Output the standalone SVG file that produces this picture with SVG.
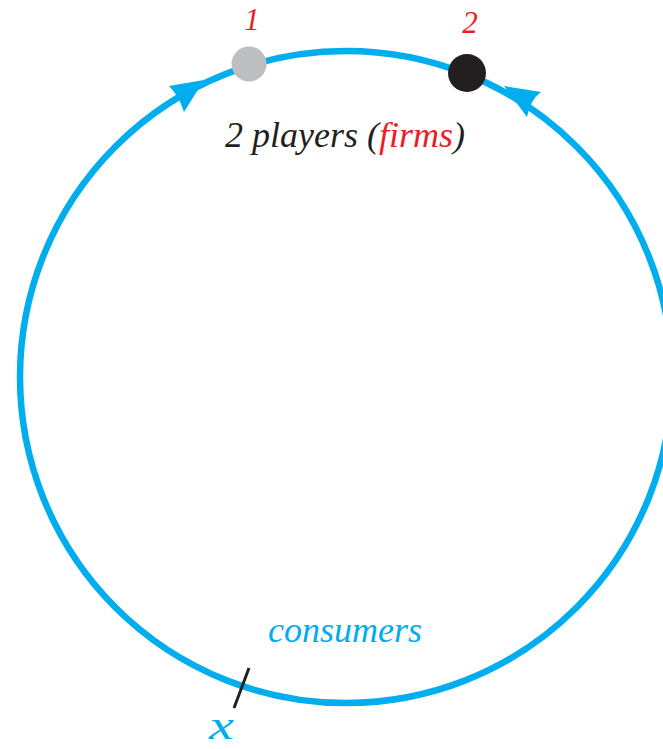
<svg xmlns="http://www.w3.org/2000/svg" width="663" height="749" viewBox="0 0 663 749">
<style>
.lbl{font-family:"Liberation Serif","Times New Roman",serif;font-style:italic}
.arrow{fill:#00aeef;stroke:none}
</style>
<rect width="663" height="749" fill="#ffffff"/>
<g id="connectors">
<circle cx="346" cy="377" r="326" fill="none" stroke="#00aeef" stroke-width="6.5"/>
<path class="arrow" d="M204,80 L169,86 Q179,96 184,112 Z"/>
<path class="arrow" d="M504,86 L541,92 Q530,100 527,117 Z"/>
<line x1="249" y1="668" x2="234" y2="708" stroke="#231f20" stroke-width="3"/>
</g>
<g id="node1">
<circle cx="249" cy="64" r="17.5" fill="#bcbec0"/>
<text class="lbl" x="252" y="30" font-size="31" fill="#ed1c24" text-anchor="middle">1</text>
</g>
<g id="node2">
<circle cx="467" cy="73" r="19" fill="#231f20"/>
<text class="lbl" x="470" y="33" font-size="31" fill="#ed1c24" text-anchor="middle">2</text>
</g>
<g id="title">
<text class="lbl" x="225" y="147" font-size="36" fill="#231f20">2 players (<tspan fill="#ed1c24">firms</tspan>)</text>
</g>
<g id="consumers">
<text class="lbl" x="268" y="642" font-size="36" fill="#00aeef">consumers</text>
<text class="lbl" x="209" y="739" font-size="40" fill="#00aeef" textLength="25" lengthAdjust="spacingAndGlyphs">x</text>
</g>
</svg>
